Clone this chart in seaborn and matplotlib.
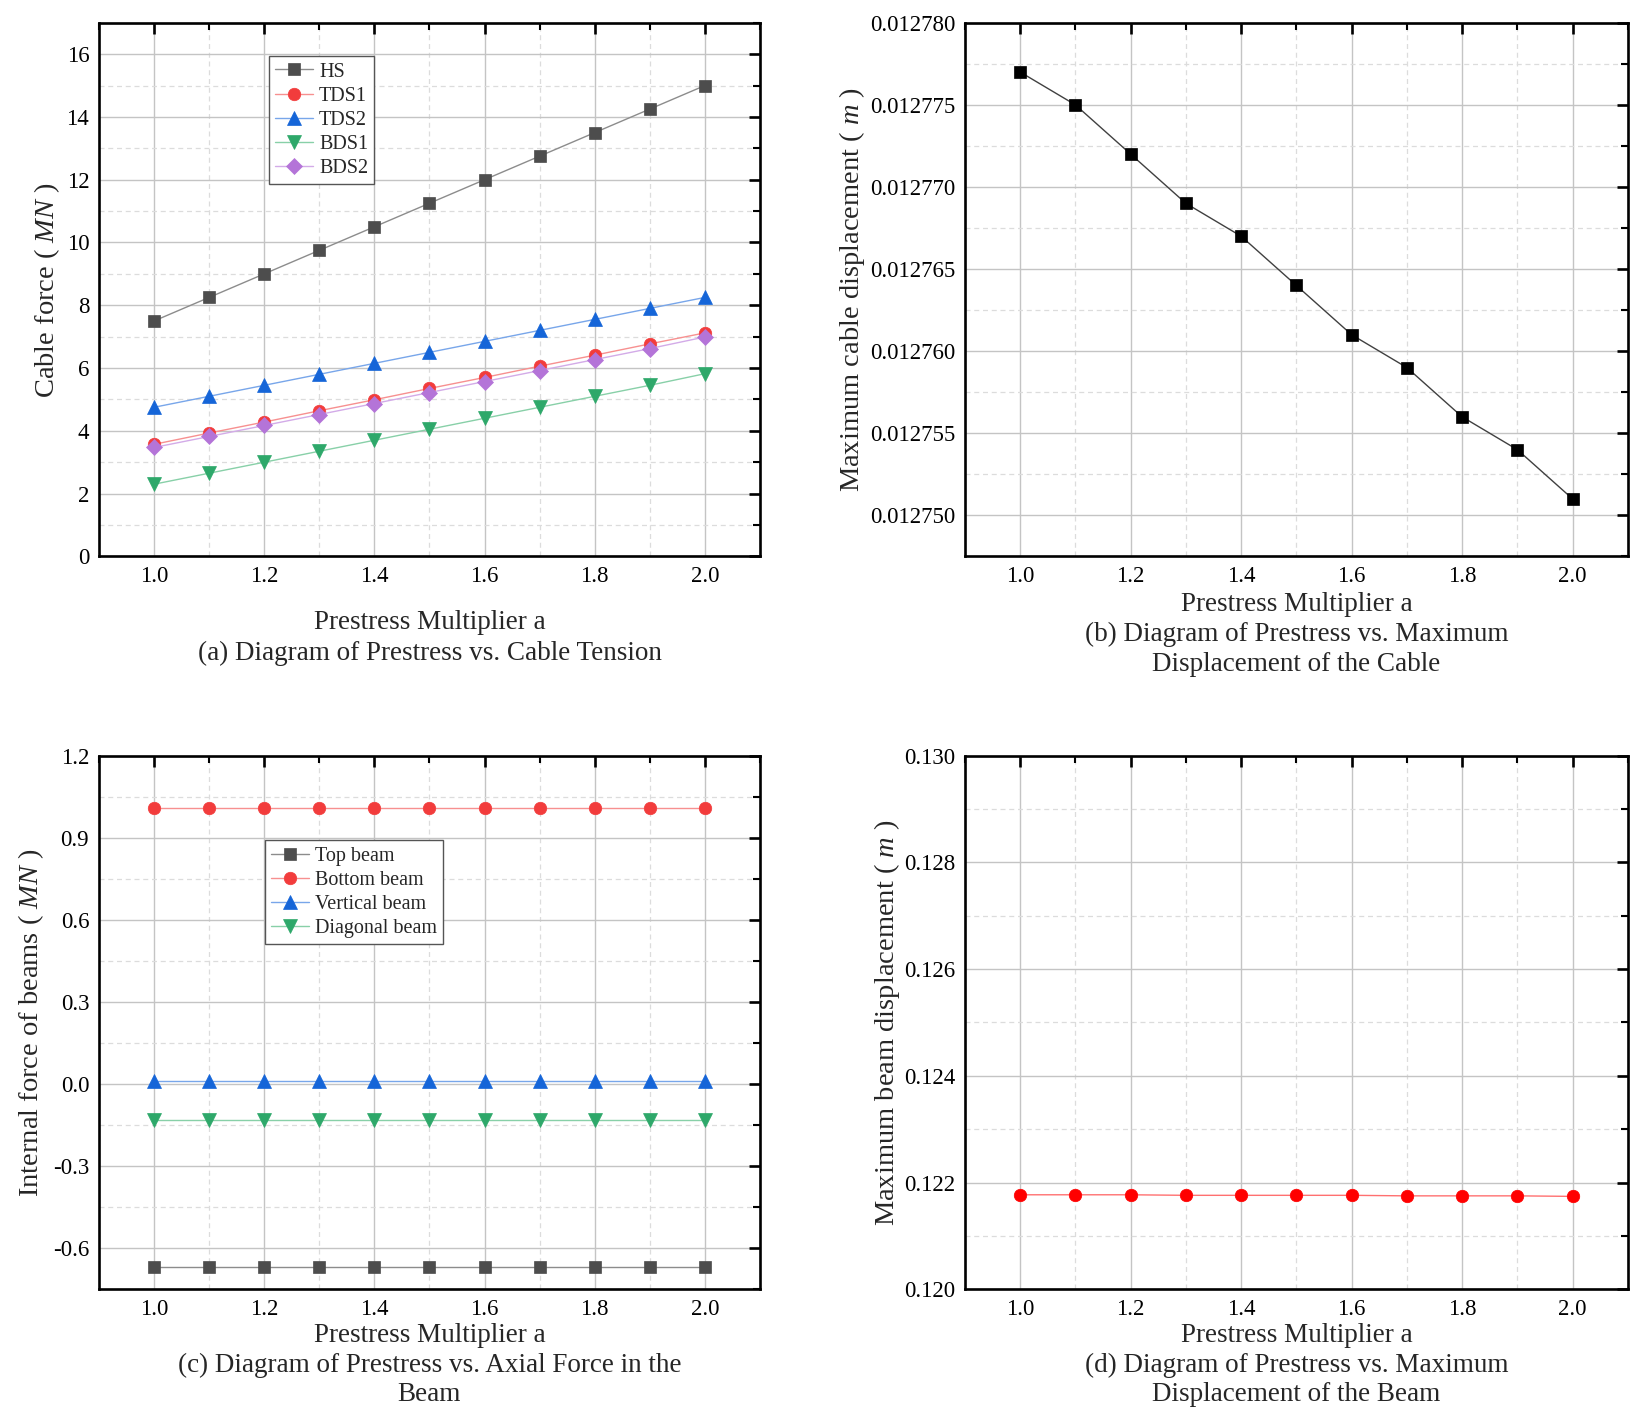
import seaborn as sns
import matplotlib.pyplot as plt
from matplotlib.ticker import MultipleLocator, FormatStrFormatter

# prestress multiplier values
a = [1.0, 1.1, 1.2, 1.3, 1.4, 1.5, 1.6, 1.7, 1.8, 1.9, 2.0]

# (a) cable forces (MN)
hs = [7.5, 8.25, 9.0, 9.75, 10.5, 11.25, 12.0, 12.75, 13.5, 14.25, 15.0]
tds1 = [3.57, 3.93, 4.28, 4.64, 4.99, 5.35, 5.70, 6.06, 6.41, 6.77, 7.12]
tds2 = [4.75, 5.10, 5.45, 5.80, 6.15, 6.50, 6.85, 7.20, 7.55, 7.90, 8.25]
bds1 = [2.30, 2.65, 3.00, 3.35, 3.70, 4.05, 4.40, 4.75, 5.10, 5.45, 5.82]
bds2 = [3.47, 3.82, 4.17, 4.52, 4.87, 5.22, 5.57, 5.92, 6.27, 6.62, 6.99]

# (b) maximum cable displacement (m)
cable_disp = [0.012777, 0.012775, 0.012772, 0.012769, 0.012767, 0.012764,
              0.012761, 0.012759, 0.012756, 0.012754, 0.012751]

# (c) axial force in beams (MN)
top_beam = [-0.67] * 11
bottom_beam = [1.01] * 11
vertical_beam = [0.01] * 11
diagonal_beam = [-0.13] * 11

# (d) maximum beam displacement (m)
beam_disp = [0.12177, 0.12177, 0.12177, 0.12176, 0.12176, 0.12176,
             0.12176, 0.12175, 0.12175, 0.12175, 0.12174]

sns.set_style("white")
plt.rcParams['font.family'] = ['Liberation Serif', 'DejaVu Serif']
plt.rcParams['mathtext.fontset'] = 'custom'
plt.rcParams['mathtext.rm'] = 'Liberation Serif'
plt.rcParams['mathtext.it'] = 'Liberation Serif:italic'

# (marker colour, line colour)
GRAY = ('#4d4d4d', '#8c8c8c')
RED = ('#f23c3c', '#f79090')
BLUE = ('#1565d8', '#78a6ea')
GREEN = ('#2ea86a', '#88d0a8')
PURPLE = ('#b474d8', '#d3abe8')

LAB = 19.5   # axis labels / captions
TICK = 16.5

fig = plt.figure(figsize=(16.41, 14.23), dpi=100)
ax_a = fig.add_axes([0.0603, 0.609, 0.4028, 0.375])
ax_b = fig.add_axes([0.588, 0.609, 0.404, 0.375])
ax_c = fig.add_axes([0.0603, 0.094, 0.4028, 0.375])
ax_d = fig.add_axes([0.588, 0.094, 0.404, 0.375])


def series(ax, y, cols, marker, label, ms=9):
    sns.lineplot(x=a, y=y, ax=ax, color=cols[1], lw=1.0, marker=marker,
                 markersize=ms, markerfacecolor=cols[0], markeredgecolor=cols[0],
                 markeredgewidth=0.5, label=label)


def style(ax, ylim, major, minor):
    ax.set_xlim(0.9, 2.1)
    ax.set_ylim(*ylim)
    ax.xaxis.set_major_locator(MultipleLocator(0.2))
    ax.xaxis.set_minor_locator(MultipleLocator(0.1))
    ax.yaxis.set_major_locator(MultipleLocator(major))
    ax.yaxis.set_minor_locator(MultipleLocator(minor))
    ax.xaxis.set_major_formatter(FormatStrFormatter('%.1f'))
    ax.grid(True, which='major', color='#c4c4c4', lw=1.0, ls='-')
    ax.grid(True, which='minor', color='#dcdcdc', lw=0.9, ls=(0, (4, 3)))
    ax.set_axisbelow(True)
    for sp in ax.spines.values():
        sp.set_visible(True)
        sp.set_color('black')
        sp.set_linewidth(1.9)
    ax.tick_params(which='both', direction='in', top=True, right=True,
                   labelsize=TICK, colors='black', pad=7)
    ax.tick_params(which='major', length=8, width=1.9)
    ax.tick_params(which='minor', length=5, width=1.5)


def legend(ax, anchor):
    ax.legend(loc='upper left', bbox_to_anchor=anchor, fontsize=14.5,
              frameon=True, fancybox=False, edgecolor='#555555', framealpha=1,
              handlelength=1.9, borderpad=0.3, labelspacing=0.25,
              handletextpad=0.3, borderaxespad=0)


# (a)
series(ax_a, hs, GRAY, 's', 'HS', 8)
series(ax_a, tds1, RED, 'o', 'TDS1')
series(ax_a, tds2, BLUE, '^', 'TDS2', 10)
series(ax_a, bds1, GREEN, 'v', 'BDS1', 10)
series(ax_a, bds2, PURPLE, 'D', 'BDS2', 8)
style(ax_a, (0, 17), 2, 1)
legend(ax_a, (0.257, 0.937))
ax_a.set_ylabel('Cable force ( $\\mathit{MN}$ )', fontsize=LAB + 1)
ax_a.set_xlabel('Prestress Multiplier a', fontsize=LAB)
ax_a.yaxis.set_label_coords(-0.056, 0.5)
ax_a.xaxis.set_label_coords(0.5, -0.10)
ax_a.text(0.5, -0.182, '(a) Diagram of Prestress vs. Cable Tension',
          transform=ax_a.transAxes, ha='center', va='center', fontsize=LAB)

# (b)
series(ax_b, cable_disp, ('black', '#404040'), 's', None, 8.5)
style(ax_b, (0.0127475, 0.01278), 0.000005, 0.0000025)
ax_b.yaxis.set_major_formatter(FormatStrFormatter('%.6f'))
ax_b.set_ylabel('Maximum cable displacement ( $\\mathit{m}$ )', fontsize=LAB + 1)
ax_b.set_xlabel('Prestress Multiplier a', fontsize=LAB)
ax_b.yaxis.set_label_coords(-0.148, 0.5)
ax_b.xaxis.set_label_coords(0.5, -0.066)
ax_b.text(0.5, -0.175, '(b) Diagram of Prestress vs. Maximum\nDisplacement of the Cable',
          transform=ax_b.transAxes, ha='center', va='center', fontsize=LAB,
          linespacing=1.25)

# (c)
series(ax_c, top_beam, GRAY, 's', 'Top beam', 8)
series(ax_c, bottom_beam, RED, 'o', 'Bottom beam')
series(ax_c, vertical_beam, BLUE, '^', 'Vertical beam', 10)
series(ax_c, diagonal_beam, GREEN, 'v', 'Diagonal beam', 10)
style(ax_c, (-0.75, 1.2), 0.3, 0.15)
ax_c.yaxis.set_major_formatter(FormatStrFormatter('%.1f'))
legend(ax_c, (0.251, 0.841))
ax_c.set_ylabel('Internal force of beams ( $\\mathit{MN}$ )', fontsize=LAB + 1)
ax_c.set_xlabel('Prestress Multiplier a', fontsize=LAB)
ax_c.yaxis.set_label_coords(-0.080, 0.5)
ax_c.xaxis.set_label_coords(0.5, -0.064)
ax_c.text(0.5, -0.17, '(c) Diagram of Prestress vs. Axial Force in the\nBeam',
          transform=ax_c.transAxes, ha='center', va='center', fontsize=LAB,
          linespacing=1.25)

# (d)
series(ax_d, beam_disp, ('#ff0000', '#ff7070'), 'o', None, 9)
style(ax_d, (0.120, 0.130), 0.002, 0.001)
ax_d.yaxis.set_major_formatter(FormatStrFormatter('%.3f'))
ax_d.set_ylabel('Maximum beam displacement ( $\\mathit{m}$ )', fontsize=LAB + 1)
ax_d.set_xlabel('Prestress Multiplier a', fontsize=LAB)
ax_d.yaxis.set_label_coords(-0.095, 0.5)
ax_d.xaxis.set_label_coords(0.5, -0.064)
ax_d.text(0.5, -0.17, '(d) Diagram of Prestress vs. Maximum\nDisplacement of the Beam',
          transform=ax_d.transAxes, ha='center', va='center', fontsize=LAB,
          linespacing=1.25)

fig.savefig('out.png', dpi=100)
